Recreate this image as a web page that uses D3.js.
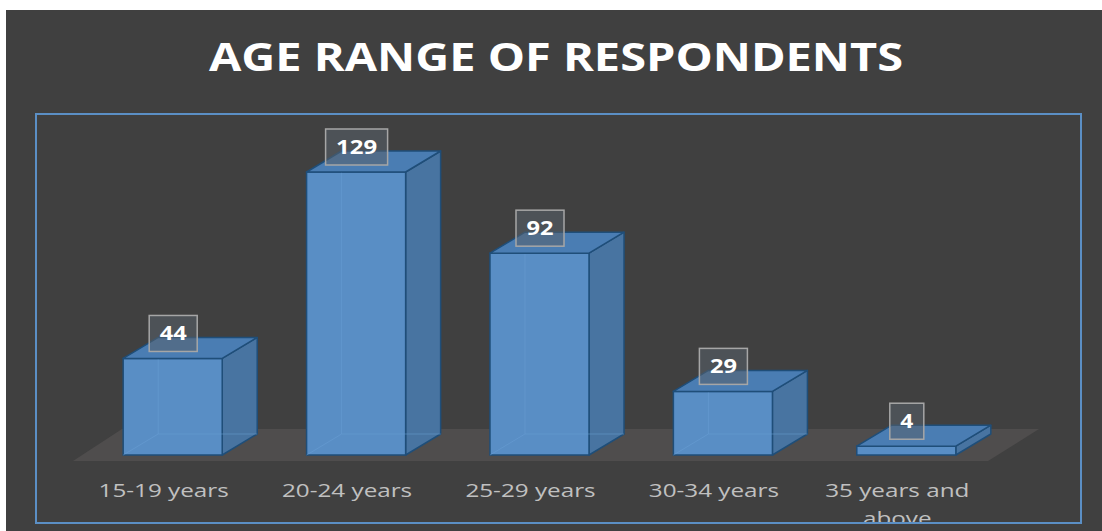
<!DOCTYPE html>
<html><head><meta charset="utf-8">
<script src="https://cdn.jsdelivr.net/npm/d3@7"></script>
<style>html,body{margin:0;padding:0;background:#fff;}svg{display:block;}</style>
</head><body>
<svg id="c" width="1102" height="531"></svg>
<script>
const title = "AGE RANGE OF RESPONDENTS";
const categories = ["15-19 years", "20-24 years", "25-29 years", "30-34 years", "35 years and above"];
const labelLines = [["15-19 years"], ["20-24 years"], ["25-29 years"], ["30-34 years"], ["35 years and", "above"]];
const values = [44, 129, 92, 29, 4];

const svg = d3.select("#c");
const font = "'Open Sans', 'DejaVu Sans', sans-serif";

svg.append("rect").attr("x", 6).attr("y", 10).attr("width", 1096).attr("height", 521).attr("fill", "#404040");

function stretchText(k) {
  return sel => sel.each(function () {
    const l = this.getComputedTextLength();
    d3.select(this).attr("textLength", l * k).attr("lengthAdjust", "spacingAndGlyphs");
  });
}

svg.append("text").attr("x", 556).attr("y", 71).attr("text-anchor", "middle")
  .attr("font-family", font).attr("font-weight", 700).attr("font-size", 40).attr("fill", "#ffffff")
  .attr("textLength", 694).attr("lengthAdjust", "spacingAndGlyphs")
  .text(title);

svg.append("defs").append("clipPath").attr("id", "pa").append("rect")
  .attr("x", 36).attr("y", 114).attr("width", 1045).attr("height", 409);

const x = d3.scaleBand().domain(categories).range([81, 998]).paddingInner(0.46).paddingOuter(0.23);
const y = d3.scaleLinear().domain([0, 129]).range([455, 172]);
const dx = 35, dy = -21;
const base = y(0);

const g = svg.append("g").attr("clip-path", "url(#pa)");

// floor
g.append("path").attr("d", `M73,461 L988,461 L1039,429 L122,429 Z`).attr("fill", "#4f4d4d");

const bars = g.selectAll("g.bar").data(values).join("g").attr("class", "bar");
bars.each(function (v, i) {
  const b = d3.select(this);
  const x0 = x(categories[i]), w = x.bandwidth(), x1 = x0 + w;
  const yt = y(v);
  b.append("path").attr("d", `M${x1},${base} L${x1 + dx},${base + dy} L${x1 + dx},${yt + dy} L${x1},${yt} Z`)
    .attr("fill", "#4874a1").attr("stroke", "#1f4e79").attr("stroke-width", 1.5).attr("stroke-linejoin", "round");
  b.append("rect").attr("x", x0).attr("y", yt).attr("width", w).attr("height", base - yt)
    .attr("fill", "#598ec5").attr("stroke", "#1f4e79").attr("stroke-width", 1.5);
  if (base - yt > 25) {
    b.append("path").attr("d", `M${x0},${base} L${x0 + dx},${base + dy} L${x1 + dx},${base + dy} M${x0 + dx},${base + dy} L${x0 + dx},${yt + dy}`)
      .attr("fill", "none").attr("stroke", "#6a9fd5").attr("stroke-opacity", 0.5).attr("stroke-width", 1);
  }
  b.append("path").attr("d", `M${x0},${yt} L${x1},${yt} L${x1 + dx},${yt + dy} L${x0 + dx},${yt + dy} Z`)
    .attr("fill", "#4a7db3").attr("stroke", "#1f4e79").attr("stroke-width", 1.5).attr("stroke-linejoin", "round");
});

// data labels
const lab = g.selectAll("g.lab").data(values).join("g").attr("class", "lab");
lab.each(function (v, i) {
  const b = d3.select(this);
  const cx = x(categories[i]) + x.bandwidth() / 2 + 0.5;
  const yb = y(v) - 7;
  const s = String(v);
  const tw = s.length * 14;
  b.append("rect").attr("x", cx - tw / 2 - 10).attr("y", yb - 36).attr("width", tw + 20).attr("height", 36)
    .attr("fill", "rgba(88,96,106,0.55)").attr("stroke", "#a6a6a6").attr("stroke-width", 1.5);
  b.append("text").attr("x", cx).attr("y", yb - 11).attr("text-anchor", "middle")
    .attr("font-family", font).attr("font-weight", 700).attr("font-size", 20).attr("fill", "#ffffff")
    .attr("textLength", tw - 1).attr("lengthAdjust", "spacingAndGlyphs")
    .text(s);
});

// axis labels
const ax = g.selectAll("text.ax").data(labelLines).join("text").attr("class", "ax")
  .attr("font-family", font).attr("font-size", 18.5).attr("fill", "#c0c0c0").attr("text-anchor", "middle");
ax.each(function (lines, i) {
  const t = d3.select(this);
  const cx = x(categories[i]) + x.bandwidth() / 2 - 9;
  lines.forEach((s, k) => {
    t.append("tspan").attr("x", cx).attr("y", 497 + k * 28).text(s);
  });
});
ax.selectAll("tspan").call(stretchText(1.31));

svg.append("rect").attr("x", 36).attr("y", 114).attr("width", 1045).attr("height", 409)
  .attr("fill", "none").attr("stroke", "#5b8fc5").attr("stroke-width", 2);
</script>
</body></html>
